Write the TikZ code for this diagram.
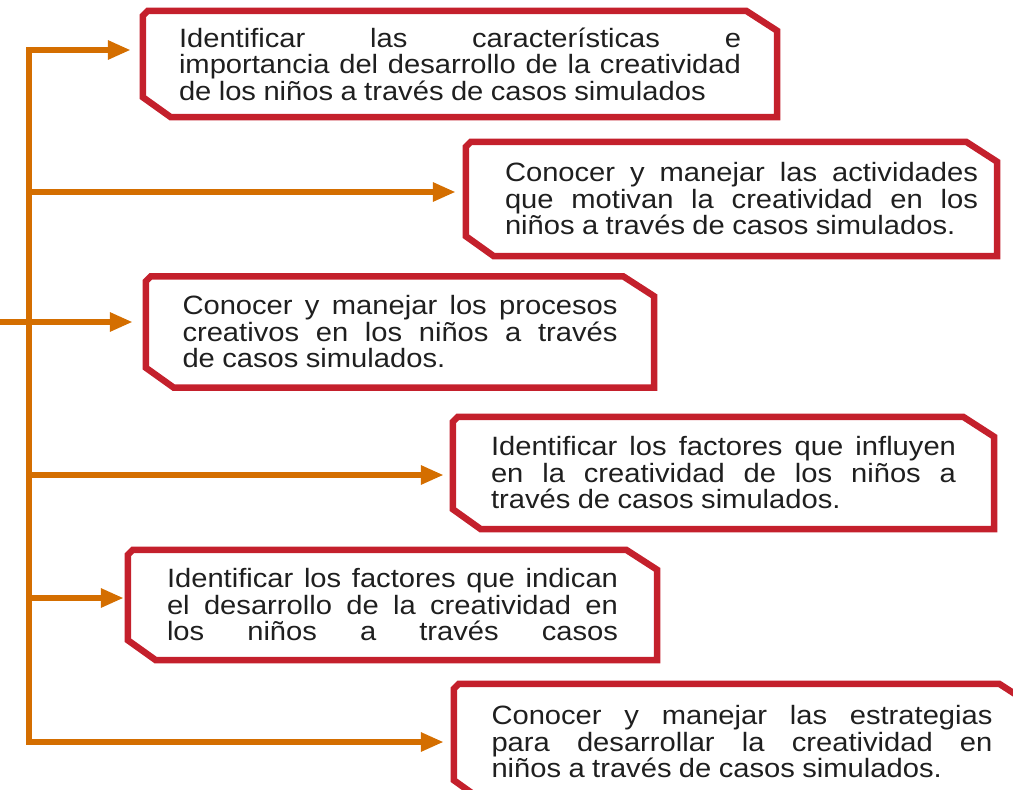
\documentclass[tikz,border=0pt]{standalone}
\usepackage{fontspec}
\setmainfont{Liberation Sans}[FakeStretch=1.1]
\usetikzlibrary{arrows.meta}

\definecolor{boxred}{RGB}{196,32,44}
\definecolor{linkorange}{RGB}{212,110,0}

% red outline with cut corners round a goal node (#1: extra room on the left)
\newcommand{\cutframe}[2][0pt]{%
  \draw[frame] ([xshift=5pt-#1]#2.north west) -- ([xshift=-31pt]#2.north east)
    -- ([yshift=-20pt]#2.north east) -- (#2.south east)
    -- ([xshift=28pt-#1]#2.south west) -- ([xshift=-#1,yshift=20pt]#2.south west)
    -- ([xshift=-#1,yshift=-5pt]#2.north west) -- cycle;}

\tikzset{
  goal/.style={inner sep=0pt, text=black!88,
    font=\fontsize{26.5}{26.5}\selectfont,
    execute at begin node={\leftskip=0pt\rightskip=0pt\relax
      \spaceskip=.28em plus 3em minus .06em\relax
      \tolerance=10000\hyphenpenalty=10000\emergencystretch=0pt}},
  frame/.style={draw=boxred, line width=6.5pt, line join=miter},
  link/.style={draw=linkorange, line width=6pt,
    -{Triangle[length=23pt,width=18pt]}},
}

\begin{document}
\begin{tikzpicture}[x=1pt,y=-1pt]
  \useasboundingbox (0,0) rectangle (1013,790);
  \clip (0,0) rectangle (1013,790);

  \node[goal, minimum width=634pt, minimum height=106pt, text width=562pt] (b1) at (460,64)
    {Identificar las características e\linebreak
     importancia del desarrollo de la creatividad\linebreak
     de los niños a través de casos simulados};
  \node[goal, minimum width=511pt, minimum height=114pt, text width=473pt] (b2) at (741.5,199)
    {Conocer y manejar las actividades\linebreak
     que motivan la creatividad en los\linebreak
     niños a través de casos simulados.};
  \node[goal, minimum width=508pt, minimum height=111pt, text width=435pt] (b3) at (400,332)
    {Conocer y manejar los procesos\linebreak
     creativos en los niños a través\linebreak
     de casos simulados.};
  \node[goal, minimum width=541pt, minimum height=112pt, text width=465pt] (b4) at (723.5,473)
    {Identificar los factores que influyen\linebreak
     en la creatividad de los niños a\linebreak
     través de casos simulados.};
  \node[goal, minimum width=529pt, minimum height=110pt, text width=451pt] (b5) at (392.5,605)
    {Identificar los factores que indican\linebreak
     el desarrollo de la creatividad en\linebreak
     \makebox[\hsize][s]{los niños a través casos}};
  \node[goal, minimum width=576pt, minimum height=116pt, text width=501pt] (b6) at (742,742)
    {Conocer y manejar las estrategias\linebreak
     para desarrollar la creatividad en\linebreak
     niños a través de casos simulados.};

  \cutframe{b1}
  \cutframe[20pt]{b2}
  \cutframe{b3}
  \cutframe{b4}
  \cutframe{b5}
  \cutframe{b6}

  % trunk and branches
  \coordinate (t1) at (28.5,50);
  \coordinate (t2) at (28.5,192);
  \coordinate (s3) at (0,322);
  \coordinate (t4) at (28.5,475);
  \coordinate (t5) at (28.5,598);
  \coordinate (t6) at (28.5,742);

  \draw[link, shorten >=12pt] (t6) -- (t1) -- (t1 -| b1.west);
  \draw[link, shorten >=10pt] (t1) -- (t6) -- (t6 -| b6.west);
  \draw[link, shorten >=30pt] (t2) -- (t2 -| b2.west);
  \draw[link, shorten >=13pt] (s3) -- (s3 -| b3.west);
  \draw[link, shorten >=9pt] (t4) -- (t4 -| b4.west);
  \draw[link, shorten >=4pt] (t5) -- (t5 -| b5.west);
\end{tikzpicture}
\end{document}
